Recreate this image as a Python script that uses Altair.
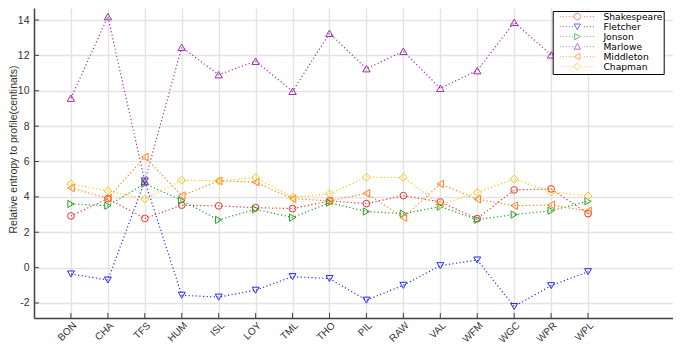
import math
import altair as alt
import pandas as pd

categories = ["BON", "CHA", "TFS", "HUM", "ISL", "LOY", "TML", "THO",
              "PIL", "RAW", "VAL", "WFM", "WGC", "WPR", "WPL"]
authors = ["Shakespeare", "Fletcher", "Jonson", "Marlowe", "Middleton", "Chapman"]

shakespeare = [2.92, 3.90, 2.78, 3.53, 3.49, 3.39, 3.34, 3.77, 3.62, 4.07, 3.71, 2.77, 4.39, 4.45, 3.05]
fletcher = [-0.36, -0.70, 4.90, -1.56, -1.67, -1.28, -0.51, -0.62, -1.84, -1.00, 0.11, 0.43, -2.20, -1.02, -0.23]
jonson = [3.60, 3.50, 4.75, 3.79, 2.70, 3.30, 2.83, 3.67, 3.17, 3.05, 3.45, 2.71, 3.00, 3.22, 3.75]
marlowe = [9.58, 14.19, 4.88, 12.46, 10.91, 11.67, 9.97, 13.25, 11.25, 12.23, 10.14, 11.14, 13.87, 12.03, 12.80]
middleton = [4.51, 3.92, 6.25, 4.07, 4.90, 4.83, 3.90, 3.77, 4.20, 2.83, 4.73, 3.87, 3.50, 3.54, 3.20]
chapman = [4.73, 4.34, 3.88, 4.94, 4.90, 5.09, 3.98, 4.17, 5.11, 5.09, 3.56, 4.24, 5.01, 4.28, 4.05]

y_ticks = [-2, 0, 2, 4, 6, 8, 10, 12, 14]

colors = ["#f03434", "#2a2af5", "#23a023", "#a030a8", "#ff8019", "#f7c515"]
shapes = ["circle", "triangle-down", "triangle-right", "triangle-up", "triangle-left", "diamond"]
sizes = [45, 62, 62, 64, 62, 52]

series = [shakespeare, fletcher, jonson, marlowe, middleton, chapman]
rows = []
for a, vals in zip(authors, series):
    for i, (c, v) in enumerate(zip(categories, vals)):
        rows.append({"author": a, "idx": i + 1, "cat": c, "value": v})
df = pd.DataFrame(rows)
cat_df = pd.DataFrame({"idx": list(range(1, len(categories) + 1)), "cat": categories})
ytick_df = pd.DataFrame({"value": y_ticks})
legend_df = pd.DataFrame({"author": authors})

# legend swatches: dotted line + marker (unit coordinates)
circle_pts = [(math.cos(2 * math.pi * k / 20), math.sin(2 * math.pi * k / 20)) for k in range(20)]
circle_path = "M" + "L".join(f"{px:.3f},{py:.3f}" for px, py in circle_pts) + "Z"
marker_paths = [
    circle_path,
    "M-1,-0.8L1,-0.8L0,0.95Z",
    "M-0.8,-1L0.95,0L-0.8,1Z",
    "M-1,0.8L1,0.8L0,-0.95Z",
    "M0.8,-1L-0.95,0L0.8,1Z",
    "M0,-1.1L1.1,0L0,1.1L-1.1,0Z",
]
dot_pos = [x / 100 for x in range(-540, 541, 93)]
dots = "".join(f"M{x:.2f},0h0.3" for x in dot_pos if abs(x) > 1.3)
legend_paths = [p + dots for p in marker_paths]

W, H = 639, 310
xmax = 17.3
ydom = [-2.85, 14.68]

label_expr = "[" + ",".join(f"'{c}'" for c in categories) + "][datum.value - 1]"

x_axis = alt.Axis(values=list(range(1, len(categories) + 1)), labelExpr=label_expr,
                  labelAngle=-45, labelAlign="right", labelBaseline="top",
                  labelPadding=2, tickSize=0, title=None, grid=True,
                  labelFont="Liberation Sans", labelFontSize=10,
                  labelColor="#333333", domainColor="#404040", domainWidth=1.5,
                  gridColor="#e3e3e3", gridWidth=1.4, labelOverlap=False)
y_axis = alt.Axis(values=y_ticks, labelExpr="'' + datum.value", tickSize=0,
                  labelPadding=5, labelFont="Liberation Sans", labelFontSize=10.5,
                  labelColor="#333333", domainColor="#404040", domainWidth=1.5,
                  gridColor="#e3e3e3", gridWidth=1.4, labelOverlap=False,
                  title="Relative entropy to profile(centinats)",
                  titleFont="Liberation Sans", titleFontSize=10.5,
                  titleFontWeight="normal", titleColor="#333333",
                  titleX=-21, titleY=141, titleAngle=270,
                  titleAlign="center", titleBaseline="middle")
x_scale = alt.Scale(domain=[0, xmax], nice=False, zero=False)
y_scale = alt.Scale(domain=ydom, nice=False, zero=False)


def xe():
    return alt.X("idx:Q", scale=x_scale, axis=x_axis)


def ye():
    return alt.Y("value:Q", scale=y_scale, axis=y_axis)


color_scale = alt.Scale(domain=authors, range=colors)

lines = alt.Chart(df).mark_line(strokeDash=[1.2, 2.4], strokeWidth=1.2).encode(
    x=xe(), y=ye(),
    color=alt.Color("author:N", scale=color_scale, legend=None),
    detail="author:N",
)

points = alt.Chart(df).mark_point(filled=False, strokeWidth=1, opacity=1).encode(
    x=xe(), y=ye(),
    color=alt.Color("author:N", scale=color_scale, legend=None),
    shape=alt.Shape("author:N", scale=alt.Scale(domain=authors, range=shapes), legend=None),
    size=alt.Size("author:N", scale=alt.Scale(domain=authors, range=sizes), legend=None),
)

xticks = alt.Chart(cat_df).mark_rule(color="#404040", strokeWidth=1).encode(
    x=xe(), y=alt.value(H), y2=alt.value(H - 5)
)
yticks = alt.Chart(ytick_df).mark_rule(color="#404040", strokeWidth=1).encode(
    y=ye(), x=alt.value(0), x2=alt.value(5)
)

leg = alt.Legend(title=None, orient="none", legendX=518.7, legendY=3,
                 strokeColor="black", fillColor="white", padding=1, rowPadding=-1,
                 symbolSize=42, symbolStrokeWidth=1, symbolOffset=19, labelOffset=21.5,
                 labelFont="DejaVu Sans", labelFontSize=9.2, labelColor="black",
                 cornerRadius=0)
legend_layer = alt.Chart(legend_df).transform_filter("false").mark_point(
    filled=False, strokeWidth=1, strokeJoin="round").encode(
    x=xe(), y=ye(),
    color=alt.Color("author:N", scale=alt.Scale(domain=authors, range=colors), legend=leg),
    shape=alt.Shape("author:N", scale=alt.Scale(domain=authors, range=legend_paths), legend=leg),
)

chart = alt.layer(lines, xticks, yticks, points, legend_layer).resolve_scale(
    color="independent", shape="independent"
).properties(
    width=W, height=H,
    autosize=alt.AutoSizeParams(type="none"),
    padding={"left": 26, "top": 0, "right": 0, "bottom": 27},
).configure_view(stroke=None)

chart.save("out.html", embed_options={"renderer": "svg", "actions": False})
